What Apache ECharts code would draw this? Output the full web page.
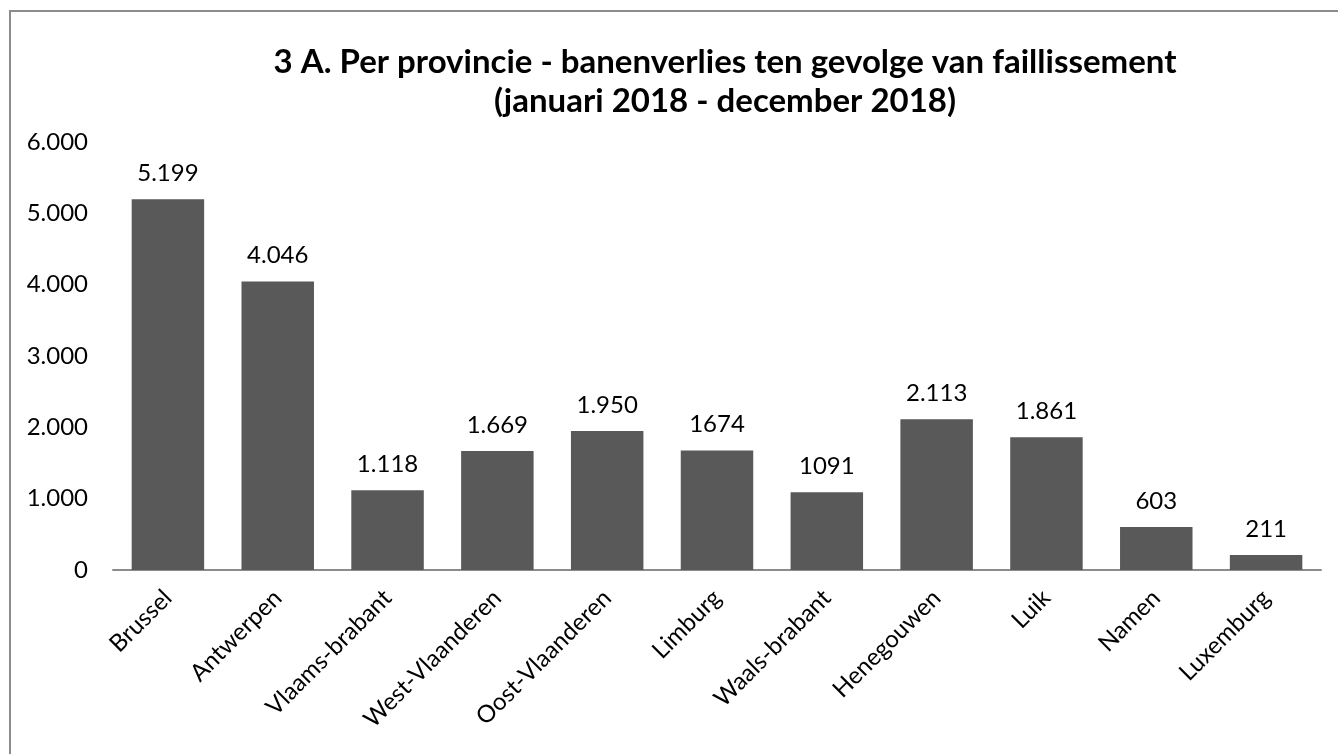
<!DOCTYPE html>
<html>
<head>
<meta charset="utf-8">
<script src="https://cdn.jsdelivr.net/npm/echarts@6/dist/echarts.min.js"></script>
<style>
  html, body { margin: 0; padding: 0; background: #fff; }
  #frame { position: absolute; left: 9px; top: 10px; width: 1400px; height: 800px; border: 2px solid #8c8c8c; box-sizing: border-box; }
  #chart { position: absolute; left: 0; top: 0; width: 1338px; height: 754px; }
</style>
</head>
<body>
<div id="frame"></div>
<div id="chart"></div>
<script>
  // provinces and job losses (jan - dec 2018)
  var provinces = ['Brussel', 'Antwerpen', 'Vlaams-brabant', 'West-Vlaanderen', 'Oost-Vlaanderen',
    'Limburg', 'Waals-brabant', 'Henegouwen', 'Luik', 'Namen', 'Luxemburg'];
  var jobLoss = [5199, 4046, 1118, 1669, 1950, 1674, 1091, 2113, 1861, 603, 211];
  // labels as they are printed above the bars
  var barLabels = ['5.199', '4.046', '1.118', '1.669', '1.950', '1674', '1091', '2.113', '1.861', '603', '211'];
  var yTicks = ['0', '1.000', '2.000', '3.000', '4.000', '5.000', '6.000'];

  var chart = echarts.init(document.getElementById('chart'));
  chart.setOption({
    animation: false,
    textStyle: { fontFamily: 'Lato' },
    title: {
      text: '3 A. Per provincie - banenverlies ten gevolge van faillissement\n(januari 2018 - december 2018)',
      left: 720,
      top: 38,
      textAlign: 'center',
      textStyle: { fontFamily: 'Lato', fontSize: 33, fontWeight: 'bold', color: '#000', lineHeight: 39 }
    },
    grid: { left: 113, right: 17, top: 142, bottom: 184, containLabel: false },
    xAxis: {
      type: 'category',
      data: provinces,
      axisLine: { lineStyle: { color: '#8c8c8c', width: 2 } },
      axisTick: { show: false },
      axisLabel: { rotate: 45, color: '#000', fontSize: 24, fontFamily: 'Lato', margin: 24, interval: 0 }
    },
    yAxis: {
      type: 'value',
      min: 0,
      max: 6000,
      interval: 1000,
      splitLine: { show: false },
      axisLine: { show: false },
      axisTick: { show: false },
      axisLabel: {
        color: '#000', fontSize: 24, fontFamily: 'Lato', margin: 25,
        formatter: function (v) { return yTicks[v / 1000]; }
      }
    },
    series: [{
      type: 'bar',
      data: jobLoss,
      barCategoryGap: '34%',
      itemStyle: { color: '#595959' },
      label: {
        show: true,
        position: 'top',
        distance: 14,
        color: '#000',
        fontSize: 24,
        fontFamily: 'Lato',
        formatter: function (p) { return barLabels[p.dataIndex]; }
      }
    }]
  });
</script>
</body>
</html>
